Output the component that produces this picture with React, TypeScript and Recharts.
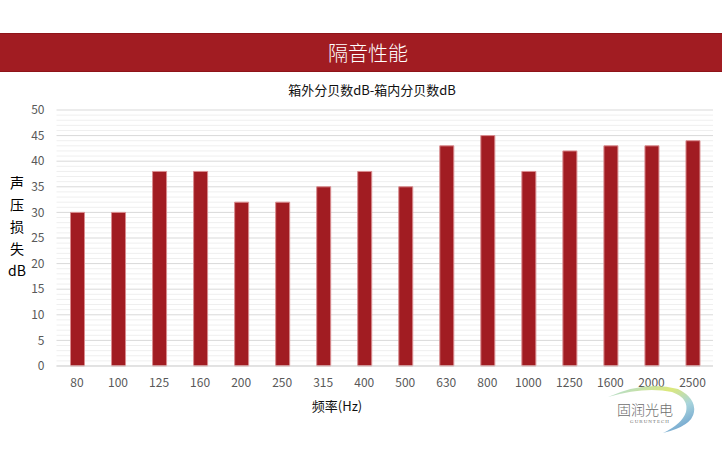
import React from "react";
import { BarChart, Bar, XAxis, YAxis, CartesianGrid } from "recharts";

const categories = ["80", "100", "125", "160", "200", "250", "315", "400", "500", "630", "800", "1000", "1250", "1600", "2000", "2500"];
const lossValues = [30, 30, 38, 38, 32, 32, 35, 38, 35, 43, 45, 38, 42, 43, 43, 44];
const majorTicks = [0, 5, 10, 15, 20, 25, 30, 35, 40, 45, 50];
const minorTicks = Array.from({ length: 51 }, (_, i) => i).filter((v) => v % 5 !== 0);
const yLabelChars = ["声", "压", "损", "失", "dB"];
const Y_MAX = 50;

const data = categories.map((c, i) => ({ freq: c, loss: lossValues[i] }));

const FONT = "'Noto Sans CJK SC', 'Noto Sans', sans-serif";

const minorGen = (props: any) => {
  const scale = props?.yAxis?.scale;
  if (typeof scale === "function") return minorTicks.map((v) => scale(v));
  if (scale && typeof scale.map === "function") return minorTicks.map((v) => scale.map(v));
  const off = props.offset;
  return minorTicks.map((v) => off.top + off.height * (1 - v / Y_MAX));
};

export default function App() {
  return (
    <div style={{ position: "fixed", left: 0, top: 0, width: 726, height: 450, background: "#fff", fontFamily: FONT }}>
      <div style={{ position: "absolute", left: 0, top: 33, width: 722, height: 39, background: "#a11c22", borderTop: "1px solid #8e1419", borderBottom: "1px solid #8e1419", boxSizing: "border-box" }} />
      <div style={{ position: "absolute", left: 0, top: 33, width: 736, height: 39, lineHeight: "39px", textAlign: "center", color: "#fff", fontSize: 20, fontWeight: 300 }}>隔音性能</div>
      <div style={{ position: "absolute", left: 0, top: 80, width: 744, height: 20, lineHeight: "20px", textAlign: "center", color: "#111", fontSize: 13 }}>箱外分贝数dB-箱内分贝数dB</div>
      <div style={{ position: "absolute", left: 0, top: 0 }}>
        <BarChart width={726} height={450} data={data} margin={{ top: 110, right: 13, left: 0, bottom: 54 }} barCategoryGap={0}>
          <CartesianGrid vertical={false} stroke="#efefef" horizontalCoordinatesGenerator={minorGen} syncWithTicks={false} />
          <CartesianGrid vertical={false} stroke="#d9d9d9" />
          <XAxis dataKey="freq" axisLine={{ stroke: "#d9d9d9" }} tickLine={false} tickSize={0} tickMargin={12} tick={{ fill: "#595959", fontSize: 12, fontFamily: FONT }} interval={0} />
          <YAxis width={56.5} domain={[0, Y_MAX]} ticks={majorTicks} axisLine={false} tickLine={false} tickSize={0} tickMargin={12} tick={{ fill: "#595959", fontSize: 12, fontFamily: FONT }} />
          <Bar dataKey="loss" fill="#a11c22" stroke="#d98c8f" strokeWidth={1} barSize={14} isAnimationActive={false} />
        </BarChart>
      </div>
      {yLabelChars.map((ch, i) => (
        <div key={ch} style={{ position: "absolute", left: 2, width: 30, top: 172 + i * 22, height: 20, lineHeight: "20px", textAlign: "center", fontSize: 14, color: "#000" }}>{ch}</div>
      ))}
      <div style={{ position: "absolute", left: 287, width: 100, top: 396, height: 20, lineHeight: "20px", textAlign: "center", fontSize: 13, color: "#111" }}>频率(Hz)</div>
      <svg style={{ position: "absolute", left: 600, top: 380 }} width={110} height={70}>
        <defs>
          <linearGradient id="arcg" x1="0" y1="0" x2="1" y2="1">
            <stop offset="0" stopColor="#9fd4e0" />
            <stop offset="0.4" stopColor="#d8e66c" />
            <stop offset="0.65" stopColor="#9fd0d8" />
            <stop offset="1" stopColor="#4a86c5" />
          </linearGradient>
        </defs>
        <path d="M 8 17 Q 45 0 78 9 Q 96 18 94 32 Q 92 46 63 53 Q 82 44 86 32 Q 89 18 72 12 Q 45 6 8 17 Z" fill="url(#arcg)" opacity={0.9} />
        <text x={45} y={35} textAnchor="middle" fontSize={14} fill="#6e6e6e" fontFamily="'Noto Sans CJK SC', serif" fontWeight={300}>固润光电</text>
        <text x={50} y={43} textAnchor="middle" fontSize={5} fill="#6e6e6e" fontFamily="serif" letterSpacing={1}>GURUNTECH</text>
      </svg>
    </div>
  );
}
